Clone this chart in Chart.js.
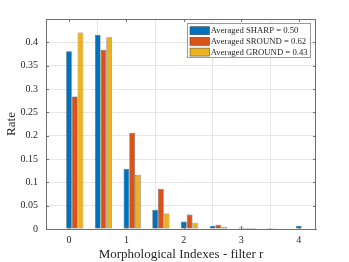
<!DOCTYPE html>
<html>
<head>
<meta charset="utf-8">
<script src="https://cdn.jsdelivr.net/npm/chart.js@4/dist/chart.umd.min.js"></script>
<style>
    html, body { margin: 0; padding: 0; background: #ffffff; }
    #wrap { width: 349px; height: 262px; }
</style>
</head>
<body>
<div id="wrap"><canvas id="myChart" width="349" height="262"></canvas></div>
<script>
// bin centres of the grouped bars
const binCenters = [0.1, 0.6, 1.1, 1.6, 2.1, 2.6, 3.1, 3.6, 4.1];

const sharpRates  = [0.381, 0.416, 0.129, 0.041, 0.016, 0.007, 0.003, 0.002, 0.007];
const sroundRates = [0.284, 0.384, 0.206, 0.086, 0.031, 0.009, 0.002, 0.0005, 0];
const groundRates = [0.421, 0.411, 0.116, 0.033, 0.0135, 0.005, 0.002, 0.001, 0];

const seriesLabels = [
    'Averaged SHARP = 0.50',
    'Averaged SROUND = 0.62',
    'Averaged GROUND = 0.43'
];

const xTickValues = [0, 1, 2, 3, 4];
const yTickValues = [0, 0.05, 0.1, 0.15, 0.2, 0.25, 0.3, 0.35, 0.4];

const serif = "'Liberation Serif', 'Times New Roman', serif";
const axisColor = '#6f6f6f';

function toPoints(values) {
    return values.map(function (v, i) { return { x: binCenters[i], y: v }; });
}

function makeDataset(label, values, colour) {
    return {
        label: label,
        data: toPoints(values),
        backgroundColor: colour,
        borderColor: 'rgba(40,40,40,0.75)',
        borderWidth: 0.6,
        borderSkipped: false,
        categoryPercentage: 0.6,
        barPercentage: 1.0
    };
}

// box round the axes plus inward tick marks, like matlab
const boxPlugin = {
    id: 'axesBox',
    afterDatasetsDraw: function (chart) {
        const ctx = chart.ctx;
        const a = chart.chartArea;
        const xs = chart.scales.x;
        const ys = chart.scales.y;
        ctx.save();
        ctx.strokeStyle = axisColor;
        ctx.lineWidth = 1;
        ctx.beginPath();
        ctx.moveTo(a.left, a.top + 0.5);
        ctx.lineTo(a.right, a.top + 0.5);
        ctx.moveTo(a.right - 0.5, a.top);
        ctx.lineTo(a.right - 0.5, a.bottom);
        xTickValues.forEach(function (v) {
            const px = Math.round(xs.getPixelForValue(v)) + 0.5;
            ctx.moveTo(px, a.bottom);
            ctx.lineTo(px, a.bottom - 3);
            ctx.moveTo(px, a.top);
            ctx.lineTo(px, a.top + 3);
        });
        yTickValues.forEach(function (v) {
            const py = Math.round(ys.getPixelForValue(v)) + 0.5;
            ctx.moveTo(a.left, py);
            ctx.lineTo(a.left + 3, py);
            ctx.moveTo(a.right, py);
            ctx.lineTo(a.right - 3, py);
        });
        ctx.stroke();
        ctx.restore();
    }
};

// legend drawn as a boxed list in the top right corner of the axes
const legendBoxPlugin = {
    id: 'legendBox',
    afterDraw: function (chart) {
        const ctx = chart.ctx;
        const a = chart.chartArea;
        const left = 187.5, top = 23.5, right = a.right - 5.5, bottom = 57.5;
        ctx.save();
        ctx.fillStyle = '#ffffff';
        ctx.fillRect(left, top, right - left, bottom - top);
        ctx.strokeStyle = '#9a9a9a';
        ctx.lineWidth = 1;
        ctx.strokeRect(left, top, right - left, bottom - top);
        ctx.font = '8.7px ' + serif;
        ctx.textBaseline = 'middle';
        chart.data.datasets.forEach(function (ds, i) {
            const cy = 30.7 + i * 10.7;
            ctx.fillStyle = ds.backgroundColor;
            ctx.fillRect(190, cy - 4, 19.5, 8);
            ctx.strokeStyle = 'rgba(40,40,40,0.75)';
            ctx.lineWidth = 0.6;
            ctx.strokeRect(190, cy - 4, 19.5, 8);
            ctx.fillStyle = '#262626';
            ctx.fillText(ds.label, 210.7, cy + 0.5);
        });
        ctx.restore();
    }
};

const chart = new Chart(document.getElementById('myChart'), {
    type: 'bar',
    data: {
        datasets: [
            makeDataset(seriesLabels[0], sharpRates, '#0072BD'),
            makeDataset(seriesLabels[1], sroundRates, '#D95319'),
            makeDataset(seriesLabels[2], groundRates, '#EDB120')
        ]
    },
    options: {
        responsive: false,
        animation: false,
        layout: {
            padding: { left: 0, right: 33, top: 19, bottom: 0 }
        },
        plugins: {
            legend: { display: false },
            tooltip: { enabled: false }
        },
        scales: {
            x: {
                type: 'linear',
                offset: false,
                min: -0.4,
                max: 4.3,
                afterBuildTicks: function (scale) {
                    scale.ticks = xTickValues.map(function (v) { return { value: v }; });
                },
                afterFit: function (scale) {
                    scale.height = 33;
                },
                grid: {
                    color: '#e6e6e6',
                    lineWidth: 1,
                    drawTicks: false
                },
                border: { display: true, color: axisColor, width: 1 },
                ticks: {
                    padding: 5,
                    maxRotation: 0,
                    autoSkip: false,
                    color: '#262626',
                    font: { family: serif, size: 10 },
                    callback: function (value) { return String(value); }
                },
                title: {
                    display: true,
                    text: 'Morphological Indexes - filter r',
                    color: '#262626',
                    font: { family: serif, size: 13 },
                    padding: { top: 0, bottom: 0 }
                }
            },
            y: {
                min: 0,
                max: 0.45,
                afterBuildTicks: function (scale) {
                    scale.ticks = yTickValues.map(function (v) { return { value: v }; });
                },
                afterFit: function (scale) {
                    scale.width = 46;
                },
                grid: {
                    color: '#e6e6e6',
                    lineWidth: 1,
                    drawTicks: false
                },
                border: { display: true, color: axisColor, width: 1 },
                ticks: {
                    padding: 8,
                    autoSkip: false,
                    color: '#262626',
                    font: { family: serif, size: 10 },
                    callback: function (value) { return String(value); }
                },
                title: {
                    display: true,
                    text: 'Rate',
                    color: '#262626',
                    font: { family: serif, size: 13 },
                    padding: { top: 4, bottom: 0 }
                }
            }
        }
    },
    plugins: [boxPlugin, legendBoxPlugin]
});
</script>
</body>
</html>
